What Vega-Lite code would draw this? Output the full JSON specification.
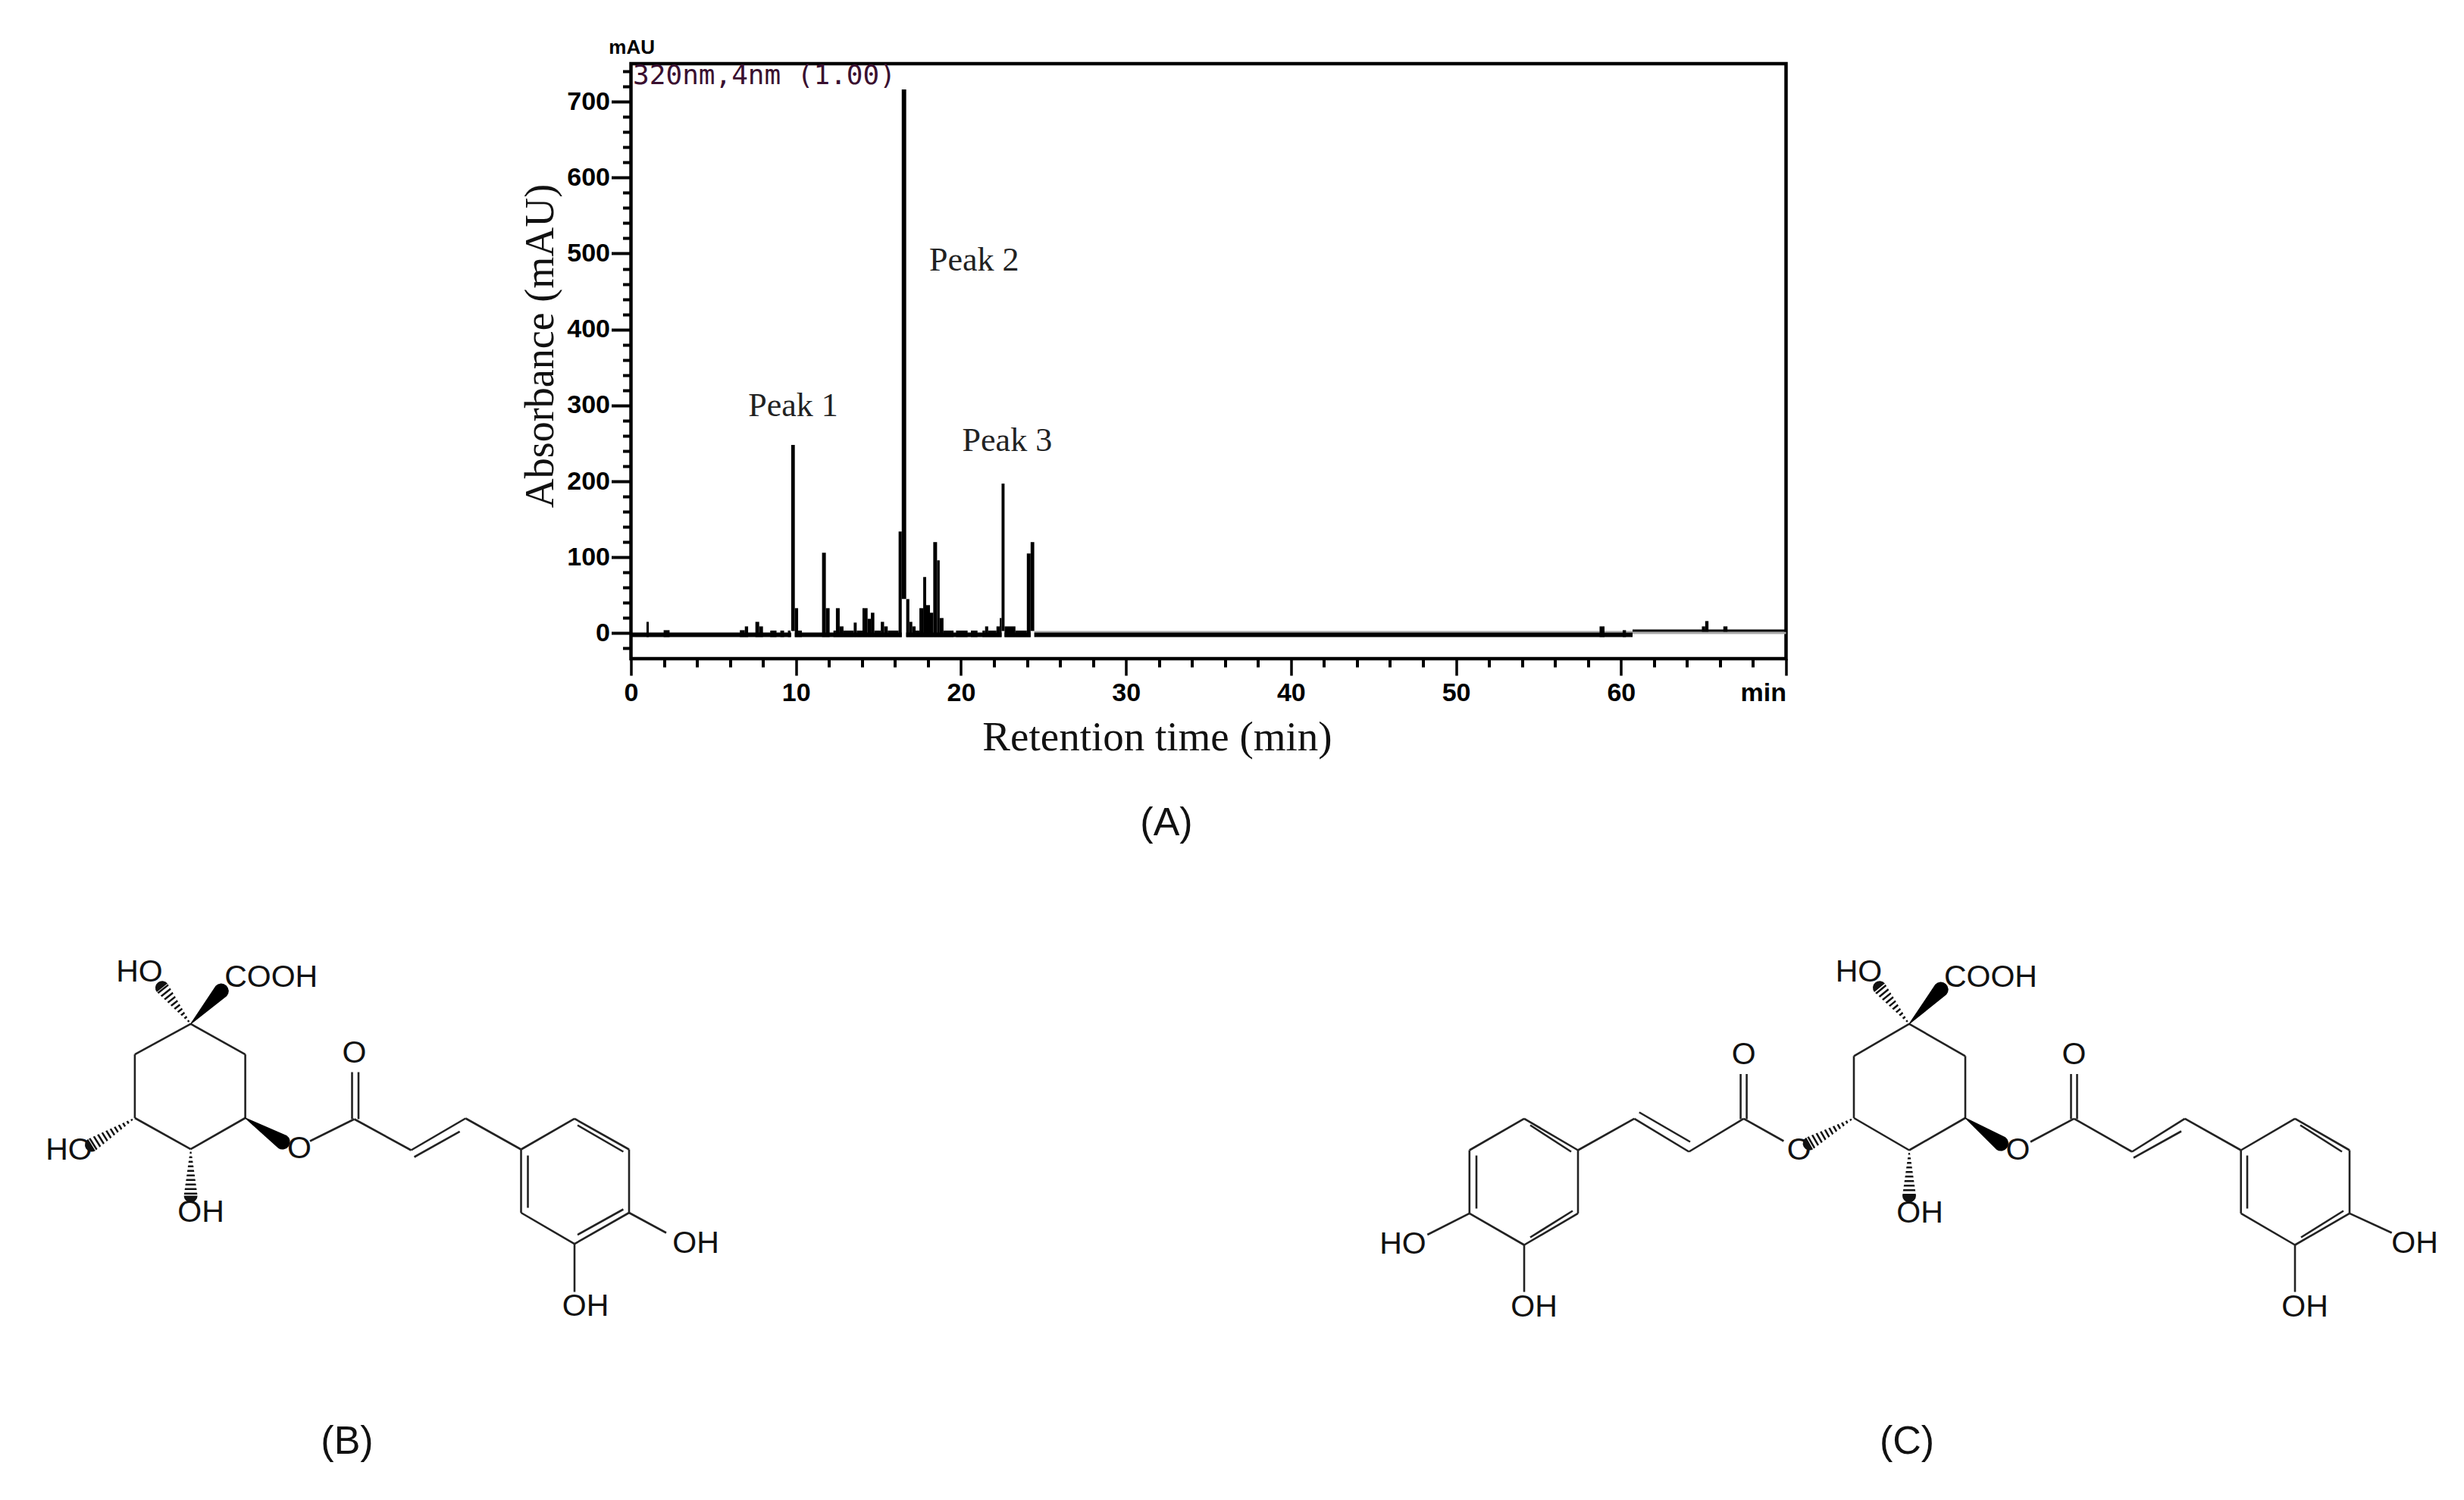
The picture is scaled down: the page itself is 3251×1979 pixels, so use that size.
{"$schema":"https://vega.github.io/schema/vega-lite/v6.json","padding":{"left":0,"top":47,"right":0,"bottom":0},"background":"white","bounds":"flush","center":true,"spacing":130.5,"config":{"view":{"stroke":null},"axis":{"grid":false}},
"datasets":{
"edge":[{"t0":24.44,"t1":60.7,"low":1,"high":3},{"t0":60.7,"t1":70,"low":-1,"high":2}],
"trace":[{"t0":0,"t1":9.71,"low":-5,"high":1},{"t0":9.93,"t1":16.41,"low":-5,"high":1},{"t0":16.68,"t1":22.46,"low":-5,"high":1},{"t0":22.64,"t1":24.22,"low":-5,"high":1},{"t0":24.44,"t1":60.7,"low":-5,"high":1},{"t0":60.7,"t1":70,"low":2,"high":5},
{"t0":0.94,"t1":1.08,"low":-5,"high":15},{"t0":1.98,"t1":2.34,"low":-5,"high":4},{"t0":6.6,"t1":6.9,"low":-5,"high":4},{"t0":6.9,"t1":7.1,"low":-5,"high":9},{"t0":7.54,"t1":7.77,"low":-5,"high":15},{"t0":7.77,"t1":8.0,"low":-5,"high":9},{"t0":8.44,"t1":8.82,"low":-5,"high":3.5},{"t0":9.05,"t1":9.28,"low":-5,"high":3.5},{"t0":9.51,"t1":9.67,"low":-5,"high":3.5},{"t0":9.71,"t1":9.93,"low":3,"high":248},{"t0":9.93,"t1":10.13,"low":-5,"high":33},{"t0":10.13,"t1":10.36,"low":-5,"high":3.5},{"t0":11.58,"t1":11.81,"low":-5,"high":106},{"t0":11.81,"t1":12.04,"low":-5,"high":33},{"t0":12.27,"t1":12.42,"low":-5,"high":3.5},{"t0":12.42,"t1":12.65,"low":-5,"high":33},{"t0":12.65,"t1":12.88,"low":-5,"high":9},{"t0":12.88,"t1":13.5,"low":-5,"high":3.5},{"t0":13.5,"t1":13.68,"low":-5,"high":14},{"t0":13.68,"t1":14.03,"low":-5,"high":3.5},{"t0":14.03,"t1":14.34,"low":-5,"high":33},{"t0":14.34,"t1":14.54,"low":-5,"high":19},{"t0":14.54,"t1":14.75,"low":-5,"high":27},{"t0":14.75,"t1":15.14,"low":-5,"high":3.5},{"t0":15.14,"t1":15.34,"low":-5,"high":15},{"t0":15.34,"t1":15.56,"low":-5,"high":9},{"t0":15.56,"t1":16.22,"low":-5,"high":3.5},{"t0":16.22,"t1":16.41,"low":-5,"high":134},{"t0":16.41,"t1":16.68,"low":45,"high":716},{"t0":16.68,"t1":16.87,"low":-5,"high":45},{"t0":16.87,"t1":17.05,"low":-5,"high":15},{"t0":17.05,"t1":17.25,"low":-5,"high":9},{"t0":17.25,"t1":17.48,"low":-5,"high":3.5},{"t0":17.48,"t1":17.71,"low":-5,"high":33},{"t0":17.71,"t1":17.89,"low":-5,"high":74},{"t0":17.89,"t1":18.12,"low":-5,"high":37},{"t0":18.12,"t1":18.32,"low":-5,"high":27},{"t0":18.32,"t1":18.55,"low":-5,"high":120},{"t0":18.55,"t1":18.71,"low":-5,"high":96},{"t0":18.71,"t1":18.94,"low":-5,"high":20},{"t0":18.94,"t1":19.55,"low":-5,"high":3.5},{"t0":19.7,"t1":20.4,"low":-5,"high":3.5},{"t0":20.6,"t1":21,"low":-5,"high":3.5},{"t0":21.3,"t1":21.46,"low":-5,"high":3.5},{"t0":21.46,"t1":21.65,"low":-5,"high":9},{"t0":21.65,"t1":22.15,"low":-5,"high":3.5},{"t0":22.15,"t1":22.35,"low":-5,"high":9},{"t0":22.35,"t1":22.46,"low":-5,"high":20},{"t0":22.46,"t1":22.64,"low":3,"high":197},{"t0":22.64,"t1":23.3,"low":-5,"high":9},{"t0":23.3,"t1":23.99,"low":-5,"high":3.5},{"t0":23.99,"t1":24.22,"low":-5,"high":105},{"t0":24.22,"t1":24.44,"low":3,"high":120},{"t0":58.7,"t1":59,"low":-5,"high":9},{"t0":60.1,"t1":60.3,"low":-5,"high":4},{"t0":64.9,"t1":65.1,"low":2,"high":9},{"t0":65.1,"t1":65.3,"low":2,"high":16},{"t0":66.2,"t1":66.45,"low":2,"high":9}],
"peaks":[{"t":9.83,"v":299,"label":"Peak 1"},{"t":20.8,"v":490,"label":"Peak 2"},{"t":22.8,"v":253,"label":"Peak 3"}],
"bonds":[
{"x":251.6,"y":1351.4,"x2":323.6,"y2":1391.6},{"x":323.6,"y":1391.6,"x2":323.6,"y2":1475.5},{"x":323.6,"y":1475.5,"x2":251.6,"y2":1516.6},{"x":251.6,"y":1516.6,"x2":177.9,"y2":1475.5},{"x":177.9,"y":1475.5,"x2":177.9,"y2":1391.6},{"x":177.9,"y":1391.6,"x2":251.6,"y2":1351.4},
{"x":409,"y":1506,"x2":467.5,"y2":1477},{"x":464.5,"y":1477,"x2":464.5,"y2":1415},{"x":473,"y":1477,"x2":473,"y2":1415},{"x":467.5,"y":1477,"x2":542.4,"y2":1518},{"x":542.4,"y":1518,"x2":614.3,"y2":1476},{"x":546.6,"y":1527,"x2":606.6,"y2":1493.4},{"x":614.3,"y":1476,"x2":687.5,"y2":1517},
{"x":687.5,"y":1517,"x2":758,"y2":1476.4},{"x":758,"y":1476.4,"x2":830,"y2":1517},{"x":830,"y":1517,"x2":830,"y2":1600.5},{"x":830,"y":1600.5,"x2":758,"y2":1641.6},{"x":758,"y":1641.6,"x2":687.5,"y2":1600.5},{"x":687.5,"y":1600.5,"x2":687.5,"y2":1517},
{"x":762,"y":1485,"x2":822.4,"y2":1520},{"x":696.5,"y":1525,"x2":696.5,"y2":1594},{"x":822.4,"y":1596,"x2":762,"y2":1629.6},{"x":830,"y":1600.5,"x2":879,"y2":1627},{"x":758,"y":1641.6,"x2":758,"y2":1705},
{"x":2519,"y":1351.4,"x2":2593,"y2":1393.8},{"x":2593,"y":1393.8,"x2":2593,"y2":1475.5},{"x":2593,"y":1475.5,"x2":2519,"y2":1518},{"x":2519,"y":1518,"x2":2446,"y2":1475.5},{"x":2446,"y":1475.5,"x2":2446,"y2":1393.8},{"x":2446,"y":1393.8,"x2":2519,"y2":1351.4},
{"x":2679,"y":1507,"x2":2736.5,"y2":1476.4},{"x":2732.5,"y":1477,"x2":2732.5,"y2":1417.5},{"x":2740.5,"y":1477,"x2":2740.5,"y2":1417.5},{"x":2736.5,"y":1476.4,"x2":2813,"y2":1520},{"x":2813,"y":1520,"x2":2882.7,"y2":1476.4},{"x":2815,"y":1528,"x2":2878,"y2":1493},{"x":2882.7,"y":1476.4,"x2":2956.7,"y2":1518},
{"x":2956.7,"y":1518,"x2":3028,"y2":1476.4},{"x":3028,"y":1476.4,"x2":3100,"y2":1518},{"x":3100,"y":1518,"x2":3100,"y2":1601.4},{"x":3100,"y":1601.4,"x2":3028,"y2":1643},{"x":3028,"y":1643,"x2":2956.7,"y2":1601.4},{"x":2956.7,"y":1601.4,"x2":2956.7,"y2":1518},
{"x":3035,"y":1485,"x2":3090,"y2":1520},{"x":2965,"y":1525,"x2":2965,"y2":1595},{"x":3092,"y":1598,"x2":3036,"y2":1633},{"x":3100,"y":1601.4,"x2":3155.7,"y2":1627},{"x":3028,"y":1643,"x2":3028,"y2":1705},
{"x":2353.4,"y":1506,"x2":2300.6,"y2":1476.4},{"x":2296.6,"y":1477,"x2":2296.6,"y2":1417.5},{"x":2304.6,"y":1477,"x2":2304.6,"y2":1417.5},{"x":2300.6,"y":1476.4,"x2":2228.4,"y2":1520},{"x":2228.4,"y":1520,"x2":2156.3,"y2":1476.4},{"x":2230,"y":1507,"x2":2162.8,"y2":1468},{"x":2156.3,"y":1476.4,"x2":2082,"y2":1518},
{"x":2082,"y":1518,"x2":2011,"y2":1476.4},{"x":2011,"y":1476.4,"x2":1938.8,"y2":1518},{"x":1938.8,"y":1518,"x2":1938.8,"y2":1601.4},{"x":1938.8,"y":1601.4,"x2":2011,"y2":1643},{"x":2011,"y":1643,"x2":2082,"y2":1601.4},{"x":2082,"y":1601.4,"x2":2082,"y2":1518},
{"x":2019,"y":1485,"x2":2073,"y2":1520},{"x":1948,"y":1525,"x2":1948,"y2":1595},{"x":2019,"y":1633,"x2":2075,"y2":1598},{"x":1938.8,"y":1601.4,"x2":1883.3,"y2":1629.5},{"x":2011,"y":1643,"x2":2011,"y2":1705}],
"hashLines":[{"x":251.6,"y":1351.4,"x2":213.9,"y2":1303.7},{"x":177.9,"y":1475.5,"x2":121,"y2":1511},{"x":251.6,"y":1516.6,"x2":251.6,"y2":1578},{"x":2519,"y":1351.4,"x2":2480,"y2":1303.7},{"x":2519,"y":1518,"x2":2519,"y2":1578},{"x":2446,"y":1475.5,"x2":2387.6,"y2":1509}],
"hash":[{"b":"h1","s":0,"x":251.6,"y":1351.4,"w":1},{"b":"h1","s":1,"x":213.9,"y":1303.7,"w":18},{"b":"h2","s":0,"x":177.9,"y":1475.5,"w":1},{"b":"h2","s":1,"x":121,"y":1511,"w":18},{"b":"h3","s":0,"x":251.6,"y":1516.6,"w":1},{"b":"h3","s":1,"x":251.6,"y":1578,"w":18},{"b":"h4","s":0,"x":2519,"y":1351.4,"w":1},{"b":"h4","s":1,"x":2480,"y":1303.7,"w":18},{"b":"h5","s":0,"x":2519,"y":1518,"w":1},{"b":"h5","s":1,"x":2519,"y":1578,"w":18},{"b":"h6","s":0,"x":2446,"y":1475.5,"w":1},{"b":"h6","s":1,"x":2387.6,"y":1509,"w":18}],
"wedge":[{"b":"w1","s":0,"x":251.6,"y":1351.4,"w":1},{"b":"w1","s":1,"x":291.8,"y":1308,"w":20},{"b":"w2","s":0,"x":323.6,"y":1475.5,"w":1},{"b":"w2","s":1,"x":372.7,"y":1507,"w":20},{"b":"w3","s":0,"x":2519,"y":1351.4,"w":1},{"b":"w3","s":1,"x":2560.7,"y":1306,"w":20},{"b":"w4","s":0,"x":2593,"y":1475.5,"w":1},{"b":"w4","s":1,"x":2640,"y":1509,"w":20}],
"atoms":[{"x":183.9,"y":1283,"label":"HO"},{"x":357.7,"y":1290,"label":"COOH"},{"x":467.5,"y":1390,"label":"O"},{"x":395,"y":1516,"label":"O"},{"x":91,"y":1518,"label":"HO"},{"x":265,"y":1600,"label":"OH"},{"x":918,"y":1641,"label":"OH"},{"x":772.6,"y":1724,"label":"OH"},{"x":2452.4,"y":1283,"label":"HO"},{"x":2626.4,"y":1290,"label":"COOH"},{"x":2736.5,"y":1392,"label":"O"},{"x":2662.5,"y":1518,"label":"O"},{"x":2533,"y":1601,"label":"OH"},{"x":3186,"y":1641,"label":"OH"},{"x":3041,"y":1725,"label":"OH"},{"x":2373.7,"y":1518,"label":"O"},{"x":2300.6,"y":1392,"label":"O"},{"x":1851,"y":1642,"label":"HO"},{"x":2024,"y":1725,"label":"OH"}],
"panelLabels":[{"x":1539,"y":1086,"label":"(A)"},{"x":458,"y":1902,"label":"(B)"},{"x":2516,"y":1902,"label":"(C)"}]
},
"vconcat":[
{"width":1524,"height":785,"view":{"stroke":"black","strokeWidth":4.5},"resolve":{"axis":{"x":"independent","y":"independent"}},
"layer":[
{"data":{"name":"edge"},"mark":{"type":"rect","color":"#a8a8a8"},"encoding":{"x":{"field":"t0","type":"quantitative","scale":{"domain":[0,70],"nice":false,"zero":false},"axis":null},"x2":{"field":"t1"},"y":{"field":"low","type":"quantitative","scale":{"domain":[-33.5,750],"nice":false,"zero":false},"axis":null},"y2":{"field":"high"}}},
{"data":{"name":"trace"},"mark":{"type":"rect","color":"black"},"encoding":{
"x":{"field":"t0","type":"quantitative","axis":{"values":[0,10,20,30,40,50,60,70],"labelExpr":"datum.value==70?'min':datum.label","labelAlign":{"condition":{"test":"datum.value==70","value":"right"},"value":"center"},"title":"Retention time (min)","titleFont":"Liberation Serif","titleFontWeight":"normal","titleFontSize":55,"titleColor":"#111","titlePadding":15,"titleX":694,"titleAlign":"center","labelFont":"Liberation Sans","labelFontWeight":"bold","labelFontSize":34,"labelColor":"black","labelPadding":6,"labelOverlap":false,"labelFlush":false,"tickSize":22,"tickWidth":3.5,"tickColor":"black","domain":false}},"x2":{"field":"t1"},
"y":{"field":"low","type":"quantitative","axis":{"values":[0,100,200,300,400,500,600,700],"title":"Absorbance (mAU)","titleFont":"Liberation Serif","titleFontWeight":"normal","titleFontSize":54,"titleColor":"#111","titlePadding":7,"titleY":372,"labelFont":"Liberation Sans","labelFontWeight":"bold","labelFontSize":34,"labelColor":"black","labelPadding":2,"labelOverlap":false,"tickSize":26,"tickWidth":4,"tickColor":"black","domain":false}},"y2":{"field":"high"}}},
{"data":{"name":"peaks"},"mark":{"type":"text","font":"Liberation Serif","fontSize":44,"color":"#222"},"encoding":{
"x":{"field":"t","type":"quantitative","axis":{"orient":"bottom","values":[2,4,6,8,12,14,16,18,22,24,26,28,32,34,36,38,42,44,46,48,52,54,56,58,62,64,66,68],"labels":false,"title":null,"tickSize":11,"tickWidth":4,"tickColor":"black","domain":false}},
"y":{"field":"v","type":"quantitative","axis":{"orient":"left","values":[-20,20,40,60,80,120,140,160,180,220,240,260,280,320,340,360,380,420,440,460,480,520,540,560,580,620,640,660,680,720,740],"labels":false,"title":null,"tickSize":11,"tickWidth":4,"tickColor":"black","domain":false}},"text":{"field":"label"}}},
{"data":{"values":[{"t":0.05,"v":771,"label":"mAU"}]},"mark":{"type":"text","font":"Liberation Sans","fontWeight":"bold","fontSize":26,"color":"black"},"encoding":{"x":{"field":"t","type":"quantitative","axis":null},"y":{"field":"v","type":"quantitative","axis":null},"text":{"field":"label"}}},
{"data":{"values":[{"t":0.12,"v":734,"label":"320nm,4nm (1.00)"}]},"mark":{"type":"text","align":"left","font":"DejaVu Sans Mono","fontSize":36,"color":"#3a1030"},"encoding":{"x":{"field":"t","type":"quantitative","axis":null},"y":{"field":"v","type":"quantitative","axis":null},"text":{"field":"label"}}}
]},
{"width":3189,"height":979,
"layer":[
{"data":{"name":"hash"},"mark":{"type":"trail","color":"#111"},"encoding":{"x":{"field":"x","type":"quantitative","scale":{"domain":[0,3189],"nice":false,"zero":false},"axis":null},"y":{"field":"y","type":"quantitative","scale":{"domain":[1979,1000],"nice":false,"zero":false},"axis":null},"detail":{"field":"b"},"order":{"field":"s"},"size":{"field":"w","type":"quantitative","scale":null,"legend":null}}},
{"data":{"name":"hashLines"},"mark":{"type":"rule","color":"white","strokeWidth":24,"strokeDash":[3.5,2.5]},"encoding":{"x":{"field":"x","type":"quantitative"},"y":{"field":"y","type":"quantitative"},"x2":{"field":"x2"},"y2":{"field":"y2"}}},
{"data":{"name":"bonds"},"mark":{"type":"rule","color":"#222","strokeWidth":2.6},"encoding":{"x":{"field":"x","type":"quantitative"},"y":{"field":"y","type":"quantitative"},"x2":{"field":"x2"},"y2":{"field":"y2"}}},
{"data":{"name":"wedge"},"mark":{"type":"trail","color":"black"},"encoding":{"x":{"field":"x","type":"quantitative"},"y":{"field":"y","type":"quantitative"},"detail":{"field":"b"},"order":{"field":"s"},"size":{"field":"w","type":"quantitative","scale":null,"legend":null}}},
{"data":{"name":"atoms"},"mark":{"type":"text","font":"Liberation Sans","fontSize":41,"color":"#111"},"encoding":{"x":{"field":"x","type":"quantitative"},"y":{"field":"y","type":"quantitative"},"text":{"field":"label"}}},
{"data":{"name":"panelLabels"},"mark":{"type":"text","font":"Liberation Sans","fontSize":52,"color":"#111"},"encoding":{"x":{"field":"x","type":"quantitative"},"y":{"field":"y","type":"quantitative"},"text":{"field":"label"}}}
]}
]}
